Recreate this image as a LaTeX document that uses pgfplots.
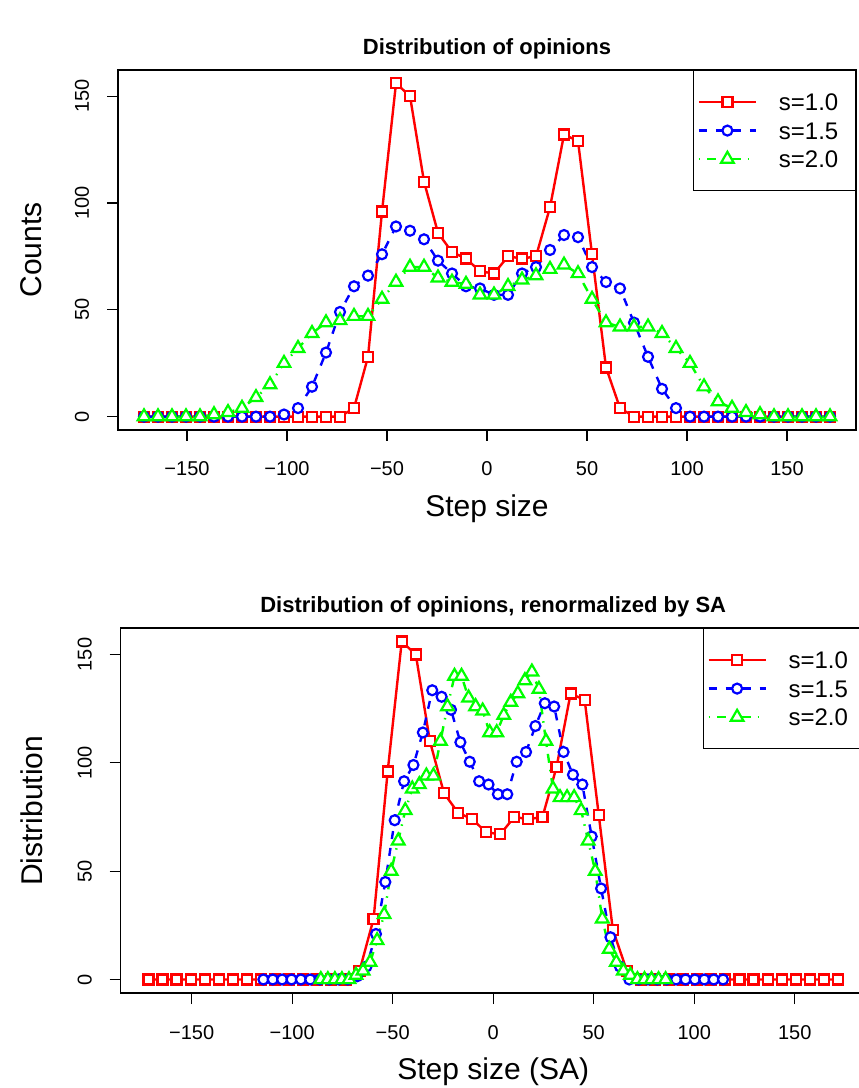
\documentclass[border=0pt]{standalone}
\usepackage{fontspec}
\setmainfont{Liberation Sans}
\usepackage{pgfplots}
\pgfplotsset{compat=1.18}
\usepackage{pgfplotstable}

% top panel: step size, counts for s=1.0 (r), s=1.5 (b), s=2.0 (g)
\pgfplotstableread{
x r b g
-171.5 0 0 0
-164.5 0 0 0
-157.5 0 0 0
-150.5 0 0 0
-143.5 0 0 0
-136.5 0 0 1
-129.5 0 0 2
-122.5 0 0 4
-115.5 0 0 9
-108.5 0 0 15
-101.5 0 1 25
-94.5 0 4 32
-87.5 0 14 39
-80.5 0 30 44
-73.5 0 49 45
-66.5 4 61 47
-59.5 28 66 47
-52.5 96 76 55
-45.5 156 89 63
-38.5 150 87 70
-31.5 110 83 70
-24.5 86 73 65
-17.5 77 67 63
-10.5 74 61 62
-3.5 68 60 57
3.5 67 57 57
10.5 75 57 61
17.5 74 67 64
24.5 75 70 66
31.5 98 78 69
38.5 132 85 71
45.5 129 84 67
52.5 76 70 55
59.5 23 63 44
66.5 4 60 42
73.5 0 44 42
80.5 0 28 42
87.5 0 13 39
94.5 0 4 32
101.5 0 0 25
108.5 0 0 14
115.5 0 0 7
122.5 0 0 4
129.5 0 0 2
136.5 0 0 1
143.5 0 0 0
150.5 0 0 0
157.5 0 0 0
164.5 0 0 0
171.5 0 0 0
}\topdata

% bottom panel, s=1.5
\pgfplotstableread{
x y
-114.33 0
-109.67 0
-105 0
-100.33 0
-95.67 0
-91 0
-86.33 0
-81.67 0
-77 0
-72.33 0
-67.67 1.5
-63 6
-58.33 21
-53.67 45
-49 73.5
-44.33 91.5
-39.67 99
-35 114
-30.33 133.5
-25.67 130.5
-21 124.5
-16.33 109.5
-11.67 100.5
-7 91.5
-2.33 90
2.33 85.5
7 85.5
11.67 100.5
16.33 105
21 117
25.67 127.5
30.33 126
35 105
39.67 94.5
44.33 90
49 66
53.67 42
58.33 19.5
63 6
67.67 0
72.33 0
77 0
81.67 0
86.33 0
91 0
95.67 0
100.33 0
105 0
109.67 0
114.33 0
}\botblue

% bottom panel, s=2.0
\pgfplotstableread{
x y
-85.75 0
-82.25 0
-78.75 0
-75.25 0
-71.75 0
-68.25 2
-64.75 4
-61.25 8
-57.75 18
-54.25 30
-50.75 50
-47.25 64
-43.75 78
-40.25 88
-36.75 90
-33.25 94
-29.75 94
-26.25 110
-22.75 126
-19.25 140
-15.75 140
-12.25 130
-8.75 126
-5.25 124
-1.75 114
1.75 114
5.25 122
8.75 128
12.25 132
15.75 138
19.25 142
22.75 134
26.25 110
29.75 88
33.25 84
36.75 84
40.25 84
43.75 78
47.25 64
50.75 50
54.25 28
57.75 14
61.25 8
64.75 4
68.25 2
71.75 0
75.25 0
78.75 0
82.25 0
85.75 0
}\botgreen

\pgfplotsset{
  panel/.style={
    scale only axis,
    anchor=south west,
    ymin=-6.24, ymax=162.24,
    axis line style={line width=1.2bp, black},
    tick align=outside,
    major tick length=11bp,
    tick style={line width=1.2bp, black},
    xtick pos=lower, ytick pos=left,
    xtick={-150,-100,-50,0,50,100,150},
    xticklabels={−150,−100,−50,0,50,100,150},
    ytick={0,50,100,150},
    yticklabels={0,50,100,150},
    tick label style={font=\fontsize{20bp}{24bp}\selectfont},
    xticklabel style={anchor=base},
    xticklabel shift=35bp,
    yticklabel style={anchor=base, rotate=90},
    yticklabel shift=18bp,
    legend cell align=left,
    legend style={at={(rel axis cs:1,1)}, anchor=north east, draw=black,
      line width=1.2bp, fill=white, inner xsep=5.5bp, inner ysep=23bp,
      row sep=11.5bp, column sep=23bp,
      font=\fontsize{24bp}{28bp}\selectfont,
      nodes={inner sep=0pt, text height=17bp, text depth=0pt}},
    legend image code/.code={%
      \draw[overlay, mark repeat=2, mark phase=2]
        plot coordinates {(0bp,0bp) (28.5bp,0bp) (57bp,0bp)};
      \path[draw=none, fill=none] (0bp,-8.5bp) rectangle (57bp,8.5bp);},
  },
  sred/.style={color=red, line width=2.4bp, mark=square*, mark size=5bp,
    mark options={solid, fill=white, line width=2.2bp}},
  sblue/.style={color=blue, line width=2.4bp, dash pattern=on 8bp off 9bp,
    mark=*, mark size=5bp, mark options={solid, fill=white, line width=2.2bp}},
  sgreen/.style={color=green, line width=2.4bp,
    dash pattern=on 1.5bp off 7bp on 9bp off 7bp,
    mark=triangle*, mark size=7.3bp, mark options={solid, fill=white, line width=2.2bp}},
}

\begin{document}
\begin{tikzpicture}[x=1bp,y=1bp]
\useasboundingbox (0,0) rectangle (859,1088);

\begin{axis}[panel, at={(118bp,658bp)}, width=738bp, height=360bp,
  xmin=-184.5, xmax=184.5]
\addplot[sred] table[x=x, y=r] {\topdata};
\addlegendentry{\makebox[71bp][l]{s=1.0}}
\addplot[sblue] table[x=x, y=b] {\topdata};
\addlegendentry{\makebox[71bp][l]{s=1.5}}
\addplot[sgreen] table[x=x, y=g] {\topdata};
\addlegendentry{\makebox[71bp][l]{s=2.0}}
\end{axis}

\begin{axis}[panel, at={(120.7bp,95bp)}, width=745bp, height=365bp,
  xmin=-185.3, xmax=185.3]
\addplot[sred] table[x=x, y=r] {\topdata};
\addlegendentry{\makebox[71bp][l]{s=1.0}}
\addplot[sblue] table[x=x, y=y] {\botblue};
\addlegendentry{\makebox[71bp][l]{s=1.5}}
\addplot[sgreen] table[x=x, y=y] {\botgreen};
\addlegendentry{\makebox[71bp][l]{s=2.0}}
\end{axis}

\node[anchor=base, font=\bfseries\fontsize{22bp}{26bp}\selectfont] at (487,1033) {Distribution of opinions};
\node[anchor=base, font=\fontsize{30bp}{36bp}\selectfont] at (487,571) {Step size};
\node[anchor=base, rotate=90, font=\fontsize{30bp}{36bp}\selectfont] at (41.7,838) {Counts};

\node[anchor=base, font=\bfseries\fontsize{22bp}{26bp}\selectfont] at (493.2,475) {Distribution of opinions, renormalized by SA};
\node[anchor=base, font=\fontsize{30bp}{36bp}\selectfont] at (493.2,8) {Step size (SA)};
\node[anchor=base, rotate=90, font=\fontsize{30bp}{36bp}\selectfont] at (42.5,277.3) {Distribution};
\end{tikzpicture}
\end{document}
